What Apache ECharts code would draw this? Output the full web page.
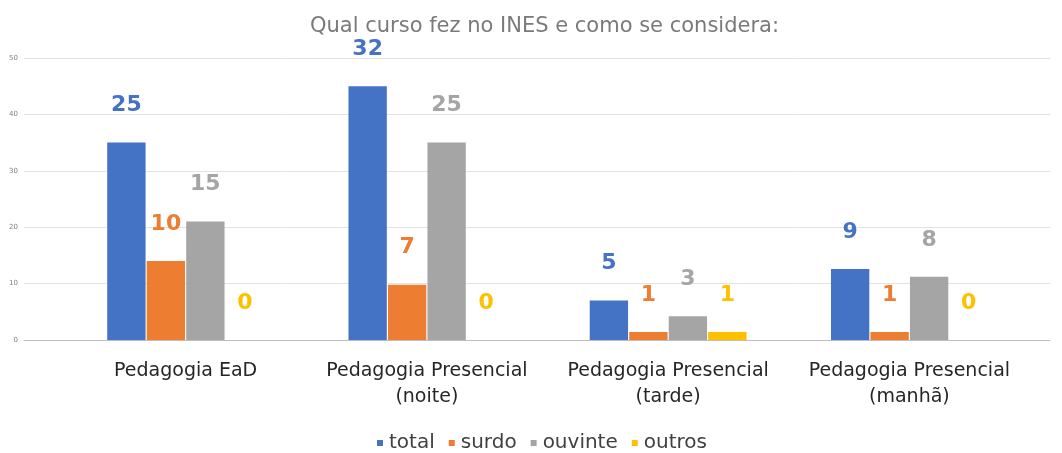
<!DOCTYPE html>
<html>
<head>
<meta charset="utf-8">
<script src="https://cdn.jsdelivr.net/npm/echarts@6/dist/echarts.min.js"></script>
<style>
  html, body { margin: 0; padding: 0; background: #fff; }
  #chart { width: 1062px; height: 453px; }
</style>
</head>
<body>
<div id="chart"></div>
<script>
// categorias
const categories = ['Pedagogia EaD', 'Pedagogia Presencial\n(noite)', 'Pedagogia Presencial\n(tarde)', 'Pedagogia Presencial\n(manhã)']
const seriesNames = ['total', 'surdo', 'ouvinte', 'outros']
const colors = ['#4472C4', '#ED7D31', '#A5A5A5', '#FFC000']

// altura das barras lida no eixo
const totalBars = [35, 45, 7, 12.6]
const surdoBars = [14, 9.8, 1.4, 1.4]
const ouvinteBars = [21, 35, 4.2, 11.2]
const outrosBars = [0, 0, 1.4, 0]

// rótulos escritos sobre as barras
const totalLabels = [25, 32, 5, 9]
const surdoLabels = [10, 7, 1, 1]
const ouvinteLabels = [15, 25, 3, 8]
const outrosLabels = [0, 0, 1, 0]

const yTicks = [0, 10, 20, 30, 40, 50]

const bars = [totalBars, surdoBars, ouvinteBars, outrosBars]
const labels = [totalLabels, surdoLabels, ouvinteLabels, outrosLabels]
const font = 'DejaVu Sans, Verdana, sans-serif'

let myChart = echarts.init(document.getElementById('chart'))
let option = {
  animation: false,
  title: {
    text: 'Qual curso fez no INES e como se considera:',
    left: 305,
    top: 11,
    textStyle: {
      color: '#7a7a7a',
      fontSize: 21,
      fontWeight: 'normal',
      fontFamily: font
    }
  },
  legend: {
    data: seriesNames,
    top: 428,
    left: 372,
    icon: 'rect',
    itemWidth: 6,
    itemHeight: 6,
    itemGap: 14,
    textStyle: {
      color: '#404040',
      fontSize: 20,
      fontFamily: font,
      padding: [0, 0, 0, 1]
    }
  },
  grid: [
    { left: 24, right: 12, top: 58, bottom: 113 },
    { left: 65, right: 32, top: 58, bottom: 113 }
  ],
  xAxis: [{
    type: 'category',
    gridIndex: 0,
    data: [''],
    axisLine: { show: true, lineStyle: { color: '#bdbdbd', width: 1 } },
    axisTick: { show: false },
    axisLabel: { show: false }
  }, {
    type: 'category',
    gridIndex: 1,
    data: categories,
    axisLine: { show: false },
    axisTick: { show: false },
    axisLabel: {
      color: '#262626',
      fontSize: 19,
      fontFamily: font,
      lineHeight: 26,
      margin: 18,
      interval: 0
    }
  }],
  yAxis: [{
    type: 'value',
    gridIndex: 0,
    min: yTicks[0],
    max: yTicks[yTicks.length - 1],
    interval: 10,
    axisLine: { show: false },
    axisTick: { show: false },
    axisLabel: {
      color: '#7f7f7f',
      fontSize: 7,
      margin: 6,
      fontFamily: font
    },
    splitLine: {
      lineStyle: { color: '#e3e3e3' }
    }
  }, {
    type: 'value',
    gridIndex: 1,
    min: yTicks[0],
    max: yTicks[yTicks.length - 1],
    interval: 10,
    axisLine: { show: false },
    axisTick: { show: false },
    axisLabel: { show: false },
    splitLine: { show: false }
  }],
  series: seriesNames.map((name, k) => {
    return {
      name: name,
      type: 'bar',
      xAxisIndex: 1,
      yAxisIndex: 1,
      barGap: '3%',
      barCategoryGap: '35%',
      data: bars[k].map((v, i) => {
        return { value: v, count: labels[k][i] }
      }),
      itemStyle: {
        color: colors[k]
      },
      label: {
        show: true,
        position: 'top',
        distance: 26,
        color: colors[k],
        fontSize: 22,
        fontWeight: 'bold',
        fontFamily: font,
        formatter: (p) => '' + p.data.count
      }
    }
  })
}
myChart.setOption(option)
</script>
</body>
</html>
